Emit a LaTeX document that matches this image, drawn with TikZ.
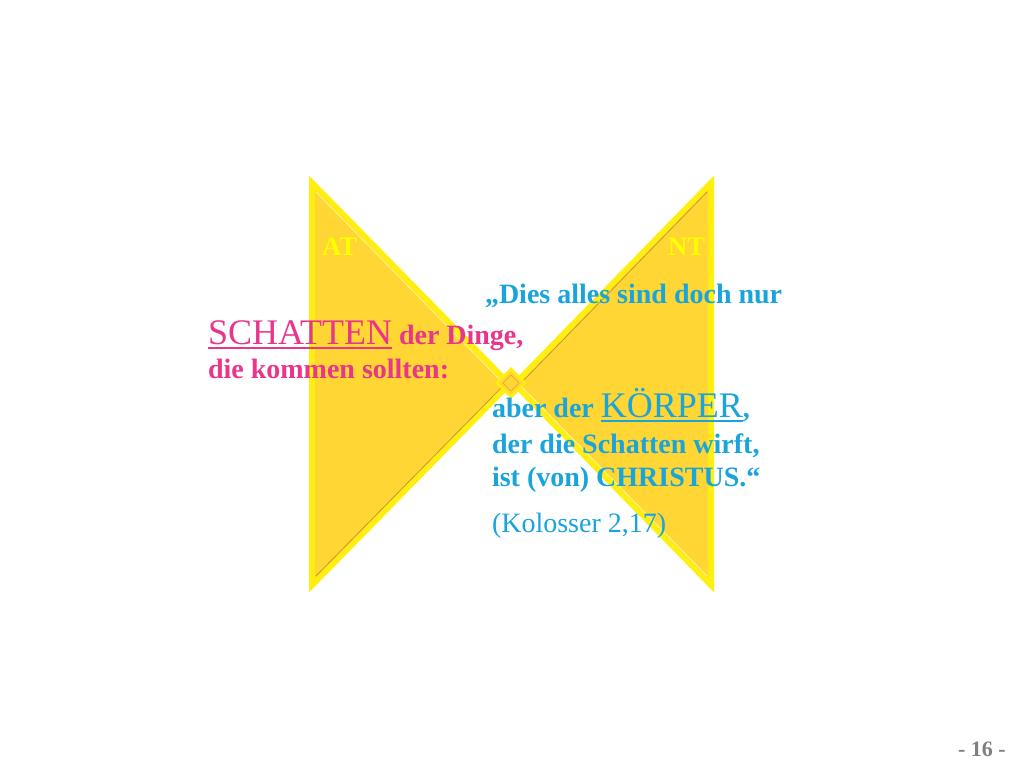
\documentclass[tikz,border=0pt]{standalone}
\usepackage{fontspec}
\setmainfont{Liberation Serif}
\definecolor{gold}{HTML}{FFD633}
\definecolor{rim}{HTML}{FFEE10}
\definecolor{lightln}{HTML}{FFF6A0}
\definecolor{darkln}{HTML}{C89440}
\definecolor{pinktxt}{HTML}{E8368C}
\definecolor{bluetxt}{HTML}{1AA4DC}
\definecolor{yelltxt}{HTML}{FFFF00}
\definecolor{pagegray}{HTML}{7F7F7F}
\definecolor{diamondln}{HTML}{E8A030}
\newcommand\myul[1]{\setbox0\hbox{#1}\rlap{\raisebox{-4pt}{\rule{\wd0}{1.5pt}}}\box0}
\begin{document}
\begin{tikzpicture}[x=0.75pt,y=-0.75pt,
  txt/.style={anchor=base west,inner sep=0pt,outer sep=0pt},
  pinkline/.style={txt,text=pinktxt,font=\fontsize{21}{24}\selectfont\bfseries},
  blueline/.style={txt,text=bluetxt,font=\fontsize{21}{24}\selectfont\bfseries},
  bigword/.style={font=\fontsize{27}{30}\selectfont\mdseries},
  tag/.style={txt,text=yelltxt,font=\fontsize{20}{24}\selectfont\bfseries},
  outer/.style={fill=rim,draw=rim,line width=1.5pt,line join=miter},
  inner/.style={fill=gold},
  lite/.style={draw=lightln,line width=0.6pt},
  dark/.style={draw=darkln,line width=0.6pt}]
\useasboundingbox (0,0) rectangle (1024,768);
\fill[white] (0,0) rectangle (1024,768);
% left triangle (AT)
\path[outer] (310,178) -- (310,590) -- (512,384) -- cycle;
\path[inner] (315,190) -- (315,578) -- (505,384) -- cycle;
% right triangle (NT)
\path[outer] (713,178) -- (713,590) -- (512,384) -- cycle;
\path[inner] (708,190) -- (708,578) -- (519,384) -- cycle;
% bevel lines
\draw[lite] (316,192) -- (503,383);
\draw[dark] (316,576) -- (503,386);
\draw[dark] (707,192) -- (521,383);
\draw[lite] (707,576) -- (521,386);
% centre diamond
\path[fill=gold,draw=rim,line width=2pt] (511,369) -- (525,383) -- (511,397) -- (497,383) -- cycle;
\path[draw=diamondln,line width=0.5pt] (511,375) -- (519,383) -- (511,391) -- (503,383) -- cycle;
% labels
\node[tag] (at) at (322,255) {AT};
\node[tag] (nt) at (668,255) {NT};
\node[blueline] (l1) at (485,303) {„Dies alles sind doch nur};
\node[pinkline] (l2) at (208,344) {{\fontsize{27}{30}\selectfont\mdseries\myul{SCHATTEN}} der Dinge,};
\node[pinkline] (l3) at (208,378) {die kommen sollten:};
\node[blueline] (l4) at (492,417) {aber der {\fontsize{27}{30}\selectfont\mdseries\myul{KÖRPER}},};
\node[blueline] (l5) at (492,453) {der die Schatten wirft,};
\node[blueline] (l6) at (492,486) {ist (von) CHRISTUS.“};
\node[txt,text=bluetxt,font=\fontsize{21}{24}\selectfont] (ref) at (492,532) {(Kolosser 2,17)};
\node[txt,text=pagegray,font=\fontsize{16.5}{18}\selectfont\bfseries] (pg) at (958,756) {- 16 -};
\end{tikzpicture}
\end{document}
